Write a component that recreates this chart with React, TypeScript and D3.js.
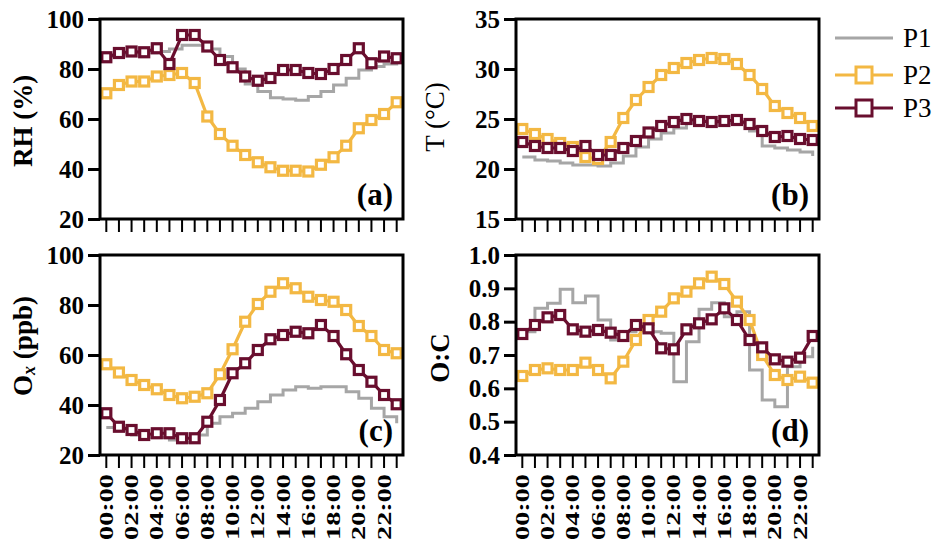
import * as d3 from "d3";
import React, { useEffect, useRef } from "react";

const hours = [
  "00", "01", "02", "03", "04", "05", "06", "07", "08", "09", "10", "11",
  "12", "13", "14", "15", "16", "17", "18", "19", "20", "21", "22", "23",
];
const hourLabels = ["00:00", "02:00", "04:00", "06:00", "08:00", "10:00", "12:00", "14:00", "16:00", "18:00", "20:00", "22:00"];
const seriesNames = ["P1", "P2", "P3"];

// RH (%)
const rhP1 = [85, 86, 86.5, 86.5, 87, 88, 89.5, 89.5, 88, 85, 80, 74, 71, 68.5, 68, 67.5, 69, 71, 73.6, 76.3, 79.6, 81, 82, 83];
const rhP2 = [70.3, 73.6, 75, 75, 77, 77.6, 78.4, 74.4, 61, 54, 49.3, 45.6, 42.7, 40.7, 39.3, 39.3, 39, 41.7, 44.7, 49.3, 56.3, 59.6, 62, 66.7];
const rhP3 = [84.7, 86.4, 87, 86.7, 88.3, 82, 93.6, 93.6, 89, 83.6, 80.7, 77, 75.3, 76.4, 79.6, 79.6, 78.4, 78, 80, 83.6, 88.3, 82.3, 85, 84.3];

// T (°C)
const tP1 = [21.2, 20.9, 20.8, 20.6, 20.4, 20.4, 20.3, 20.6, 21.3, 22.2, 23, 23.6, 24.1, 24.6, 24.8, 24.7, 24.6, 24.6, 23.8, 22.3, 22.1, 21.9, 21.7, 21.3];
const tP2 = [24, 23.5, 23, 22.6, 22.2, 21.2, 21.0, 22.7, 25.1, 26.9, 28.2, 29.4, 30.1, 30.6, 30.9, 31.1, 31, 30.5, 29.4, 28, 26.3, 25.6, 25.1, 24.3];
const tP3 = [22.7, 22.3, 22.1, 22.1, 21.8, 22.3, 21.4, 21.4, 22.1, 22.8, 23.65, 24.3, 24.7, 25.0, 24.8, 24.7, 24.8, 24.9, 24.5, 23.8, 23.2, 23.3, 23, 22.9];

// Ox (ppb)
const oxP1 = [31, 30, 28, 27, 27, 26, 25, 28, 32.7, 35.3, 36.7, 38.7, 41.3, 44, 46, 47.3, 46.7, 47.3, 47.3, 45.3, 42.7, 38.7, 35.3, 32.7];
const oxP2 = [56.3, 53, 50, 48, 46.3, 44, 42.7, 43.3, 44.7, 52.3, 62.3, 73.3, 80.4, 85.3, 88.7, 86.7, 83.3, 82, 81.3, 78, 71.6, 67.6, 62, 60.7];
const oxP3 = [36.7, 31.3, 30, 28, 28.7, 28.7, 26.7, 26.7, 33.3, 42, 52.7, 56.7, 62, 66.3, 68, 69.3, 68.7, 72, 67.6, 60.3, 54, 49.3, 44, 40.3];

// O:C
const ocP1 = [0.77, 0.84, 0.855, 0.897, 0.857, 0.877, 0.805, 0.745, 0.77, 0.79, 0.77, 0.765, 0.62, 0.74, 0.837, 0.857, 0.815, 0.83, 0.655, 0.565, 0.545, 0.665, 0.695, 0.725];
const ocP2 = [0.637, 0.655, 0.66, 0.655, 0.655, 0.677, 0.655, 0.63, 0.68, 0.745, 0.805, 0.83, 0.87, 0.89, 0.915, 0.935, 0.913, 0.86, 0.805, 0.7, 0.64, 0.625, 0.635, 0.617];
const ocP3 = [0.763, 0.79, 0.813, 0.82, 0.777, 0.77, 0.775, 0.767, 0.757, 0.79, 0.78, 0.72, 0.717, 0.777, 0.795, 0.807, 0.84, 0.805, 0.745, 0.723, 0.687, 0.68, 0.692, 0.757];

const rhTicks = [20, 40, 60, 80, 100];
const tTicks = [15, 20, 25, 30, 35];
const oxTicks = [20, 40, 60, 80, 100];
const ocTicks = [0.4, 0.5, 0.6, 0.7, 0.8, 0.9, 1.0];

const FONT = '"Liberation Serif", "Times New Roman", serif';
const colors: Record<string, string> = { P1: "#a6a6a6", P2: "#f3b843", P3: "#690e2e" };
const W = 303;
const H = 200;
const SQ = 9; // marker side

const App: React.FC = () => {
  const svgRef = useRef<SVGSVGElement>(null);

  useEffect(() => {
    const svg = d3.select(svgRef.current);
    svg.selectAll("*").remove();

    const panels = [
      { x0: 100, y0: 19, data: [rhP1, rhP2, rhP3], ticks: rhTicks, fmt: d3.format("d"), letter: "(a)", showX: false },
      { x0: 516, y0: 19, data: [tP1, tP2, tP3], ticks: tTicks, fmt: d3.format("d"), letter: "(b)", showX: false },
      { x0: 100, y0: 255, data: [oxP1, oxP2, oxP3], ticks: oxTicks, fmt: d3.format("d"), letter: "(c)", showX: true },
      { x0: 516, y0: 255, data: [ocP1, ocP2, ocP3], ticks: ocTicks, fmt: d3.format(".1f"), letter: "(d)", showX: true },
    ];

    panels.forEach((p) => {
      const x = d3.scaleBand().domain(hours).range([p.x0, p.x0 + W]);
      const y = d3
        .scaleLinear()
        .domain([p.ticks[0], p.ticks[p.ticks.length - 1]])
        .range([p.y0 + H, p.y0]);
      const cx = (h: string) => (x(h) || 0) + x.bandwidth() / 2;
      const g = svg.append("g");

      const yAxis = g
        .append("g")
        .attr("transform", `translate(${p.x0},0)`)
        .call(d3.axisLeft(y).tickValues(p.ticks).tickSize(12).tickPadding(4).tickFormat(p.fmt as any));
      yAxis.select(".domain").remove();
      yAxis.selectAll("line").attr("stroke", "#000").attr("stroke-width", 3);
      yAxis
        .selectAll("text")
        .attr("font-family", FONT)
        .attr("font-size", 25)
        .attr("font-weight", "bold")
        .attr("fill", "#000");

      const xAxis = g
        .append("g")
        .attr("transform", `translate(0,${p.y0 + H})`)
        .call(d3.axisBottom(x).tickSize(13).tickFormat(() => ""));
      xAxis.select(".domain").remove();
      xAxis.selectAll("line").attr("stroke", "#000").attr("stroke-width", 2);

      if (p.showX) {
        g.selectAll(".xl")
          .data(hourLabels)
          .join("text")
          .attr("transform", (d) => `translate(${cx(d.slice(0, 2))},${p.y0 + H + 19}) rotate(-90)`)
          .attr("text-anchor", "end")
          .attr("dy", "0.35em")
          .attr("font-family", FONT)
          .attr("font-size", 19)
          .attr("font-weight", "bold")
          .attr("textLength", 66)
          .attr("lengthAdjust", "spacingAndGlyphs")
          .text((d) => d);
      }

      // P1 step line
      const stepLine = d3
        .line<number>()
        .x((_, i) => cx(hours[i]))
        .y((d) => y(d))
        .curve(d3.curveStepAfter);
      g.append("path")
        .attr("d", stepLine(p.data[0]))
        .attr("fill", "none")
        .attr("stroke", colors.P1)
        .attr("stroke-width", 3);

      const line = d3
        .line<number>()
        .x((_, i) => cx(hours[i]))
        .y((d) => y(d));
      [1, 2].forEach((k) => {
        const c = colors[seriesNames[k]];
        g.append("path")
          .attr("d", line(p.data[k]))
          .attr("fill", "none")
          .attr("stroke", c)
          .attr("stroke-width", 3.2);
        g.append("g")
          .selectAll("rect")
          .data(p.data[k])
          .join("rect")
          .attr("x", (_, i) => cx(hours[i]) - SQ / 2)
          .attr("y", (d) => y(d) - SQ / 2)
          .attr("width", SQ)
          .attr("height", SQ)
          .attr("fill", "#fff")
          .attr("stroke", c)
          .attr("stroke-width", 3.2);
      });

      g.append("rect")
        .attr("x", p.x0)
        .attr("y", p.y0)
        .attr("width", W)
        .attr("height", H)
        .attr("fill", "none")
        .attr("stroke", "#000")
        .attr("stroke-width", 3);

      g.append("text")
        .attr("x", p.x0 + W - 10)
        .attr("y", p.y0 + H - 14)
        .attr("text-anchor", "end")
        .attr("font-family", FONT)
        .attr("font-size", 31)
        .attr("font-weight", "bold")
        .text(p.letter);
    });

    // axis titles
    const titles = [
      { x: 23, y: 121, text: "RH (%)", bold: true },
      { x: 435, y: 117, text: "T (°C)", bold: false },
      { x: 440, y: 358, text: "O:C", bold: true },
    ];
    titles.forEach((t) => {
      svg
        .append("text")
        .attr("transform", `translate(${t.x},${t.y}) rotate(-90)`)
        .attr("text-anchor", "middle")
        .attr("dominant-baseline", "central")
        .attr("font-family", FONT)
        .attr("font-size", 27)
        .attr("font-weight", t.bold ? "bold" : "normal")
        .text(t.text);
    });
    const ox = svg
      .append("text")
      .attr("transform", "translate(23,346) rotate(-90)")
      .attr("text-anchor", "middle")
      .attr("dominant-baseline", "central")
      .attr("font-family", FONT)
      .attr("font-size", 27)
      .attr("font-weight", "bold");
    ox.append("tspan").text("O");
    ox.append("tspan").attr("font-style", "italic").attr("font-size", 18).attr("dy", 6).text("x");
    ox.append("tspan").attr("dy", -6).text(" (ppb)");

    // legend
    const legendY = [38, 75, 108];
    seriesNames.forEach((name, i) => {
      const lg = svg.append("g").attr("transform", `translate(0,${legendY[i]})`);
      lg.append("line")
        .attr("x1", 835)
        .attr("x2", 893)
        .attr("stroke", colors[name])
        .attr("stroke-width", 3);
      if (i > 0) {
        lg.append("rect")
          .attr("x", 856)
          .attr("y", -8)
          .attr("width", 16)
          .attr("height", 16)
          .attr("fill", "#fff")
          .attr("stroke", colors[name])
          .attr("stroke-width", 3);
      }
      lg.append("text")
        .attr("x", 903)
        .attr("dominant-baseline", "central")
        .attr("font-family", FONT)
        .attr("font-size", 27)
        .text(name);
    });
  }, []);

  return (
    <svg
      ref={svgRef}
      width={943}
      height={545}
      style={{ position: "absolute", left: 0, top: 0, background: "#fff" }}
    />
  );
};

export default App;
